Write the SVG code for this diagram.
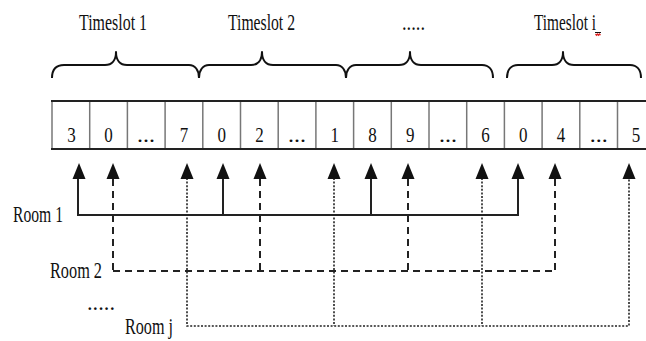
<svg xmlns="http://www.w3.org/2000/svg" width="646" height="341" viewBox="0 0 646 341">
<defs>
<style>
text{font-family:"Liberation Serif","Times New Roman",serif;fill:#111;}
.lbl{font-size:23px;}
.num{font-size:22px;text-anchor:middle;}
.brace{fill:none;stroke:#111;stroke-width:2;stroke-linejoin:round;}
.div{stroke:#777;stroke-width:1.5;}
.edge{stroke:#222;stroke-width:2;}
.solid{fill:none;stroke:#222;stroke-width:2;}
.dash{fill:none;stroke:#222;stroke-width:2;stroke-dasharray:7 5;}
.dot{fill:none;stroke:#222;stroke-width:1.6;stroke-dasharray:2 1.6;}
.head{fill:#111;}
</style>
<symbol id="ah" viewBox="-7 0 14 16" width="14" height="16" overflow="visible">
<path d="M0,0 L6.5,16 L-6.5,16 Z"/>
</symbol>
</defs>
<rect width="646" height="341" fill="#fff"/>

<g id="timeslot-labels">
<text class="lbl" x="79" y="30" textLength="68" lengthAdjust="spacingAndGlyphs">Timeslot 1</text>
<text class="lbl" x="228" y="30" textLength="67" lengthAdjust="spacingAndGlyphs">Timeslot 2</text>
<text class="lbl" x="402" y="30" textLength="23" lengthAdjust="spacingAndGlyphs">.....</text>
<text class="lbl" x="534" y="30" textLength="62" lengthAdjust="spacingAndGlyphs">Timeslot i</text>
<path d="M595,32.5 L601,32.5" stroke="#111" stroke-width="1"/>
<path d="M595.5,34 l1,1.2 l1,-1.2 l1,1.2 l1,-1.2 l1,1.2" fill="none" stroke="#d22" stroke-width="1.2"/>
</g>

<g id="braces">
<path class="brace" d="M52,78 C52,70 56,65 64,65 L105,65 C112,65 116,60 116,52 C116,60 120,65 127,65 L189,65 C195,65 199,70 199,78"/>
<path class="brace" d="M199,78 C199,70 203,65 209,65 L251,65 C258,65 262,60 262,52 C262,60 266,65 273,65 L336,65 C342,65 346,70 346,78"/>
<path class="brace" d="M346,78 C346,70 350,65 356,65 L399,65 C406,65 410,60 410,52 C410,60 414,65 421,65 L482,65 C489,65 493,70 493,78"/>
<path class="brace" d="M507,78 C507,70 511,65 518,65 L552,65 C559,65 563,60 563,52 C563,60 567,65 574,65 L630,65 C637,65 641,70 641,78"/>
</g>

<g id="slot-array">
<g class="div">
<line x1="52" y1="101" x2="52" y2="149"/>
<line x1="89.7" y1="101" x2="89.7" y2="149"/>
<line x1="127.4" y1="101" x2="127.4" y2="149"/>
<line x1="165.1" y1="101" x2="165.1" y2="149"/>
<line x1="202.8" y1="101" x2="202.8" y2="149"/>
<line x1="240.5" y1="101" x2="240.5" y2="149"/>
<line x1="278.2" y1="101" x2="278.2" y2="149"/>
<line x1="315.9" y1="101" x2="315.9" y2="149"/>
<line x1="353.6" y1="101" x2="353.6" y2="149"/>
<line x1="391.3" y1="101" x2="391.3" y2="149"/>
<line x1="429" y1="101" x2="429" y2="149"/>
<line x1="466.7" y1="101" x2="466.7" y2="149"/>
<line x1="504.4" y1="101" x2="504.4" y2="149"/>
<line x1="542.1" y1="101" x2="542.1" y2="149"/>
<line x1="579.8" y1="101" x2="579.8" y2="149"/>
<line x1="617.5" y1="101" x2="617.5" y2="149"/>
</g>
<line class="edge" x1="51" y1="101" x2="646" y2="101"/>
<line class="edge" x1="51" y1="149" x2="646" y2="149"/>
<g>
<text class="num" x="71.5" y="142" textLength="8.5" lengthAdjust="spacingAndGlyphs">3</text>
<text class="num" x="108.6" y="142" textLength="8.5" lengthAdjust="spacingAndGlyphs">0</text>
<text class="num" x="146" y="142" textLength="18" lengthAdjust="spacingAndGlyphs">...</text>
<text class="num" x="184" y="142" textLength="8.5" lengthAdjust="spacingAndGlyphs">7</text>
<text class="num" x="221.7" y="142" textLength="8.5" lengthAdjust="spacingAndGlyphs">0</text>
<text class="num" x="259.4" y="142" textLength="8.5" lengthAdjust="spacingAndGlyphs">2</text>
<text class="num" x="297" y="142" textLength="18" lengthAdjust="spacingAndGlyphs">...</text>
<text class="num" x="334.8" y="142" textLength="8.5" lengthAdjust="spacingAndGlyphs">1</text>
<text class="num" x="372.5" y="142" textLength="8.5" lengthAdjust="spacingAndGlyphs">8</text>
<text class="num" x="410.2" y="142" textLength="8.5" lengthAdjust="spacingAndGlyphs">9</text>
<text class="num" x="448" y="142" textLength="18" lengthAdjust="spacingAndGlyphs">...</text>
<text class="num" x="485.6" y="142" textLength="8.5" lengthAdjust="spacingAndGlyphs">6</text>
<text class="num" x="523.3" y="142" textLength="8.5" lengthAdjust="spacingAndGlyphs">0</text>
<text class="num" x="561" y="142" textLength="8.5" lengthAdjust="spacingAndGlyphs">4</text>
<text class="num" x="598.7" y="142" textLength="18" lengthAdjust="spacingAndGlyphs">...</text>
<text class="num" x="636" y="142" textLength="8.5" lengthAdjust="spacingAndGlyphs">5</text>
</g>
</g>

<g id="room-labels">
<text id="room1" class="lbl" x="13" y="222" textLength="50" lengthAdjust="spacingAndGlyphs">Room 1</text>
<text id="room2" class="lbl" x="50" y="278" textLength="52" lengthAdjust="spacingAndGlyphs">Room 2</text>
<text id="room-dots" class="lbl" x="87" y="310" textLength="28" lengthAdjust="spacingAndGlyphs">.....</text>
<text id="roomj" class="lbl" x="125" y="334" textLength="48" lengthAdjust="spacingAndGlyphs">Room j</text>
</g>

<g id="connectors">
<path class="solid" d="M78,178 V215 H518 V178 M223,178 V215 M371,178 V215"/>
<path class="dash" d="M113,179 V271 M260,179 V271 M408,179 V271 M555,179 V271 M113,271 H555"/>
<path class="dot" d="M187,178 V326 H629 V178 M334,178 V326 M482,178 V326"/>
<g class="head">
<use href="#ah" x="72" y="163" width="14" height="16"/>
<use href="#ah" x="106" y="163" width="14" height="16"/>
<use href="#ah" x="180" y="163" width="14" height="16"/>
<use href="#ah" x="216" y="163" width="14" height="16"/>
<use href="#ah" x="253" y="163" width="14" height="16"/>
<use href="#ah" x="327" y="163" width="14" height="16"/>
<use href="#ah" x="364" y="163" width="14" height="16"/>
<use href="#ah" x="401" y="163" width="14" height="16"/>
<use href="#ah" x="475" y="163" width="14" height="16"/>
<use href="#ah" x="511" y="163" width="14" height="16"/>
<use href="#ah" x="548" y="163" width="14" height="16"/>
<use href="#ah" x="622" y="163" width="14" height="16"/>
</g>
</g>
</svg>
